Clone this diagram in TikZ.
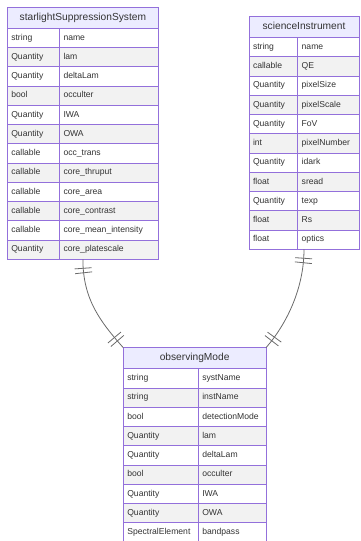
\documentclass[tikz,border=0pt]{standalone}
\usepackage{fontspec}
\setmainfont{Liberation Sans}
\usetikzlibrary{decorations.markings}
\definecolor{erborder}{HTML}{9370DB}
\definecolor{erhead}{HTML}{ECECFF}
\definecolor{erodd}{HTML}{FFFFFF}
\definecolor{ereven}{HTML}{F2F2F2}
\definecolor{ertext}{HTML}{333333}
\definecolor{erline}{HTML}{6A6A6A}
\tikzset{cell/.style={draw=erborder, line width=0.9pt, anchor=north west,
   minimum height=19.25pt, inner xsep=4pt, inner ysep=0pt, outer sep=0pt,
   text height=6.3pt, text depth=1.9pt,
   align=left, text=ertext, font=\fontsize{8.6}{10}\selectfont},
 row1/.style={fill=erodd},
 row0/.style={fill=ereven},
 headcell/.style={draw=erborder, line width=0.9pt, fill=erhead, anchor=north west,
   minimum height=21pt, inner sep=0pt, outer sep=0pt, text=ertext,
   text height=7.5pt, text depth=2.2pt,
   font=\fontsize{10.2}{12}\selectfont},
 tablebox/.style={draw=erborder, line width=0.9pt, anchor=north west,
   inner sep=0pt, outer sep=0pt},
 rel/.style={draw=erline, line width=0.8pt},
 onlyone/.style={postaction={decorate}, decoration={markings,
   mark=at position 9pt with {\draw[rel] (0,-8.5pt) -- (0,8.5pt);},
   mark=at position 13.5pt with {\draw[rel] (0,-8.5pt) -- (0,8.5pt);},
   mark=at position -9pt with {\draw[rel] (0,-8.5pt) -- (0,8.5pt);},
   mark=at position -13.5pt with {\draw[rel] (0,-8.5pt) -- (0,8.5pt);}}},
 }
\begin{document}
\begin{tikzpicture}[x=1pt,y=-1pt]
\useasboundingbox (0,0) rectangle (360,541);
% starlightSuppressionSystem
\node[headcell, minimum width=151.2pt] (sss-h) at (7.3,7.3) {starlightSuppressionSystem};
\foreach \ty/\nm [count=\i] in {string/name, Quantity/lam, Quantity/deltaLam,
    bool/occulter, Quantity/IWA, Quantity/OWA, callable/occ\_trans,
    callable/core\_thruput, callable/core\_area, callable/core\_contrast,
    callable/core\_mean\_intensity, Quantity/core\_platescale}{
  \pgfmathsetmacro\yy{28.3+(\i-1)*19.25}
  \pgfmathtruncatemacro\m{mod(\i,2)}
  \node[cell, row\m, text width=44.2pt] (sss-t\i) at (7.3,\yy) {\ty};
  \node[cell, row\m, text width=91pt] (sss-n\i) at (59.5,\yy) {\nm};
}
\node[tablebox, minimum width=151.2pt, minimum height=252pt] (sss) at (7.3,7.3) {};
% scienceInstrument
\node[headcell, minimum width=110pt] (si-h) at (249,16.5) {scienceInstrument};
\foreach \ty/\nm [count=\i] in {string/name, callable/QE, Quantity/pixelSize,
    Quantity/pixelScale, Quantity/FoV, int/pixelNumber, Quantity/idark,
    float/sread, Quantity/texp, float/Rs, float/optics}{
  \pgfmathsetmacro\yy{37.5+(\i-1)*19.25}
  \pgfmathtruncatemacro\m{mod(\i,2)}
  \node[cell, row\m, text width=40.7pt] (si-t\i) at (249,\yy) {\ty};
  \node[cell, row\m, text width=53.3pt] (si-n\i) at (297.7,\yy) {\nm};
}
\node[tablebox, minimum width=110pt, minimum height=232.75pt] (si) at (249,16.5) {};
% observingMode
\node[headcell, minimum width=142.7pt] (om-h) at (123.3,347.7) {observingMode};
\foreach \ty/\nm [count=\i] in {string/systName, string/instName, bool/detectionMode,
    Quantity/lam, Quantity/deltaLam, bool/occulter, Quantity/IWA, Quantity/OWA,
    SpectralElement/bandpass}{
  \pgfmathsetmacro\yy{368.7+(\i-1)*19.25}
  \pgfmathtruncatemacro\m{mod(\i,2)}
  \node[cell, row\m, text width=67pt] (om-t\i) at (123.3,\yy) {\ty};
  \node[cell, row\m, text width=59.7pt] (om-n\i) at (198.3,\yy) {\nm};
}
\node[tablebox, minimum width=142.7pt, minimum height=194.25pt] (om) at (123.3,347.7) {};
% relations
\draw[rel, onlyone] (sss.south) .. controls +(0,40) and +(-23,-26) .. (om.north west);
\draw[rel, onlyone] (si.south) .. controls +(0,40) and +(20,-23) .. (om.north east);
\end{tikzpicture}
\end{document}
